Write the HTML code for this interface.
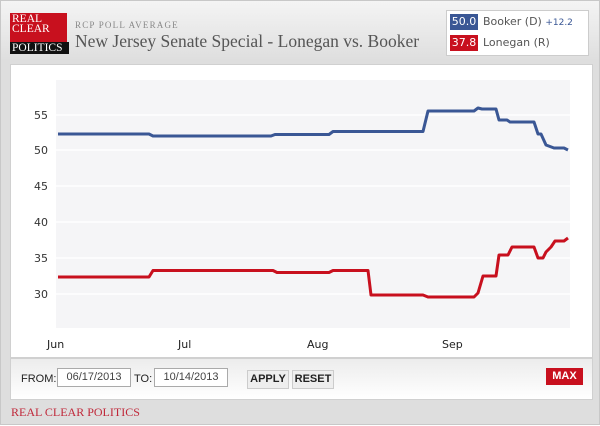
<!DOCTYPE html>
<html><head><style>
body{margin:0;width:600px;height:425px;overflow:hidden;font-family:"Liberation Sans",sans-serif;}
#wrap{position:absolute;left:0;top:0;width:598px;height:423px;border:1px solid #c8c8c8;background:linear-gradient(#f4f4f4,#dedede 60px,#dedede);}
.logo{position:absolute;left:9px;top:12px;width:57px;height:41px;background:#c8101e;font-family:"Liberation Serif",serif;color:#fff;font-size:11.5px;line-height:10px;}
.logo div{padding-left:2px}
.logo .b{position:absolute;left:0;top:29px;width:57px;height:12px;background:#111;font-size:11.5px;line-height:12px}
.sub{position:absolute;left:74px;top:19px;font-family:"Liberation Serif",serif;font-size:9px;letter-spacing:1.2px;color:#888}
.title{position:absolute;left:74px;top:30px;font-family:"Liberation Serif",serif;font-size:17.5px;color:#555;white-space:nowrap}
.leg{position:absolute;left:445px;top:9px;width:141px;height:44px;background:#fff;border:1px solid #ccc;font-family:"DejaVu Sans",sans-serif;font-size:11px;color:#555}
.leg .r{position:absolute;left:3px;height:16px;line-height:16px}
.leg .v{display:inline-block;width:28px;text-align:center;color:#fff;margin-right:5px}
#panel{position:absolute;left:9px;top:63px;width:581px;height:292px;background:#fff;border:1px solid #d0d0d0}
#ctl{position:absolute;left:9px;top:357px;width:581px;height:40px;background:linear-gradient(#ececec,#fff);border:1px solid #d0d0d0;font-size:11px;color:#222}
.in{position:absolute;top:9px;height:17px;border:1px solid #aaa;background:#fff;text-align:center;line-height:17px;font-size:11px;color:#444}
.btn{position:absolute;top:11px;height:17px;line-height:17px;background:#eee;border:1px solid #ccc;font-weight:bold;font-size:11px;text-align:center}
.foot{position:absolute;left:10px;top:404px;font-family:"Liberation Serif",serif;font-size:12px;color:#c0283a}
</style></head><body><div id="wrap">
<div class="logo"><div style="padding-top:1px">REAL</div><div>CLEAR</div><div class="b">POLITICS</div></div>
<div class="sub">RCP POLL AVERAGE</div>
<div class="title">New Jersey Senate Special - Lonegan vs. Booker</div>
<div class="leg">
<div class="r" style="top:3px"><span class="v" style="background:#3a5795">50.0</span>Booker (D) <span style="color:#3a5795;font-size:9px">+12.2</span></div>
<div class="r" style="top:24px"><span class="v" style="background:#c8101e">37.8</span>Lonegan (R)</div>
</div>
<div id="panel"></div>
<svg style="position:absolute;left:0;top:0" width="600" height="425">
<rect x="55" y="79" width="514" height="248" fill="#f5f5f7"/>
<g stroke="#fff" stroke-width="1.5">
<line x1="55" x2="569" y1="114" y2="114"/><line x1="55" x2="569" y1="149" y2="149"/><line x1="55" x2="569" y1="185" y2="185"/><line x1="55" x2="569" y1="221" y2="221"/><line x1="55" x2="569" y1="257" y2="257"/><line x1="55" x2="569" y1="293" y2="293"/>
</g>
<g font-family="DejaVu Sans,sans-serif" font-size="11" fill="#333" text-anchor="end">
<text x="47" y="118">55</text><text x="47" y="153">50</text><text x="47" y="189">45</text><text x="47" y="225">40</text><text x="47" y="261">35</text><text x="47" y="297">30</text>
</g>
<g font-family="DejaVu Sans,sans-serif" font-size="11" fill="#222">
<text x="46" y="347">Jun</text><text x="177" y="347">Jul</text><text x="306" y="347">Aug</text><text x="441" y="347">Sep</text>
</g>
<polyline fill="none" stroke="#3a5795" stroke-width="3" stroke-linejoin="round" points="57,133 148,133 152,135 270,135 274,133.5 328,133.5 332,130.5 422,130.5 427,110 473,110 477,107 481,108 495,108 498,119 506,119 509,121 533,121 537,133 540,133 545,144 553,147 563,147 567,149"/>
<polyline fill="none" stroke="#c8101e" stroke-width="3" stroke-linejoin="round" points="57,276 148,276 152,269.5 272,269.5 276,271.5 328,271.5 332,269.5 367,269.5 370,294 422,294 427,296 473,296 477,292 482,275 495,275 498,254 507,254 511,246 533,246 537,257 542,257 545,251 550,246 554,240 563,240 567,237"/>
</svg>
<div id="ctl">
<span style="position:absolute;left:10px;top:14px">FROM:</span>
<div class="in" style="left:46px;width:72px">06/17/2013</div>
<span style="position:absolute;left:123px;top:14px">TO:</span>
<div class="in" style="left:143px;width:72px">10/14/2013</div>
<div class="btn" style="left:236px;width:40px">APPLY</div>
<div class="btn" style="left:281px;width:40px">RESET</div>
<div style="position:absolute;left:535px;top:9px;width:37px;height:17px;line-height:17px;background:#c8101e;color:#fff;font-weight:bold;text-align:center;font-size:11px">MAX</div>
</div>
<div class="foot">REAL CLEAR POLITICS</div>
</div></body></html>
